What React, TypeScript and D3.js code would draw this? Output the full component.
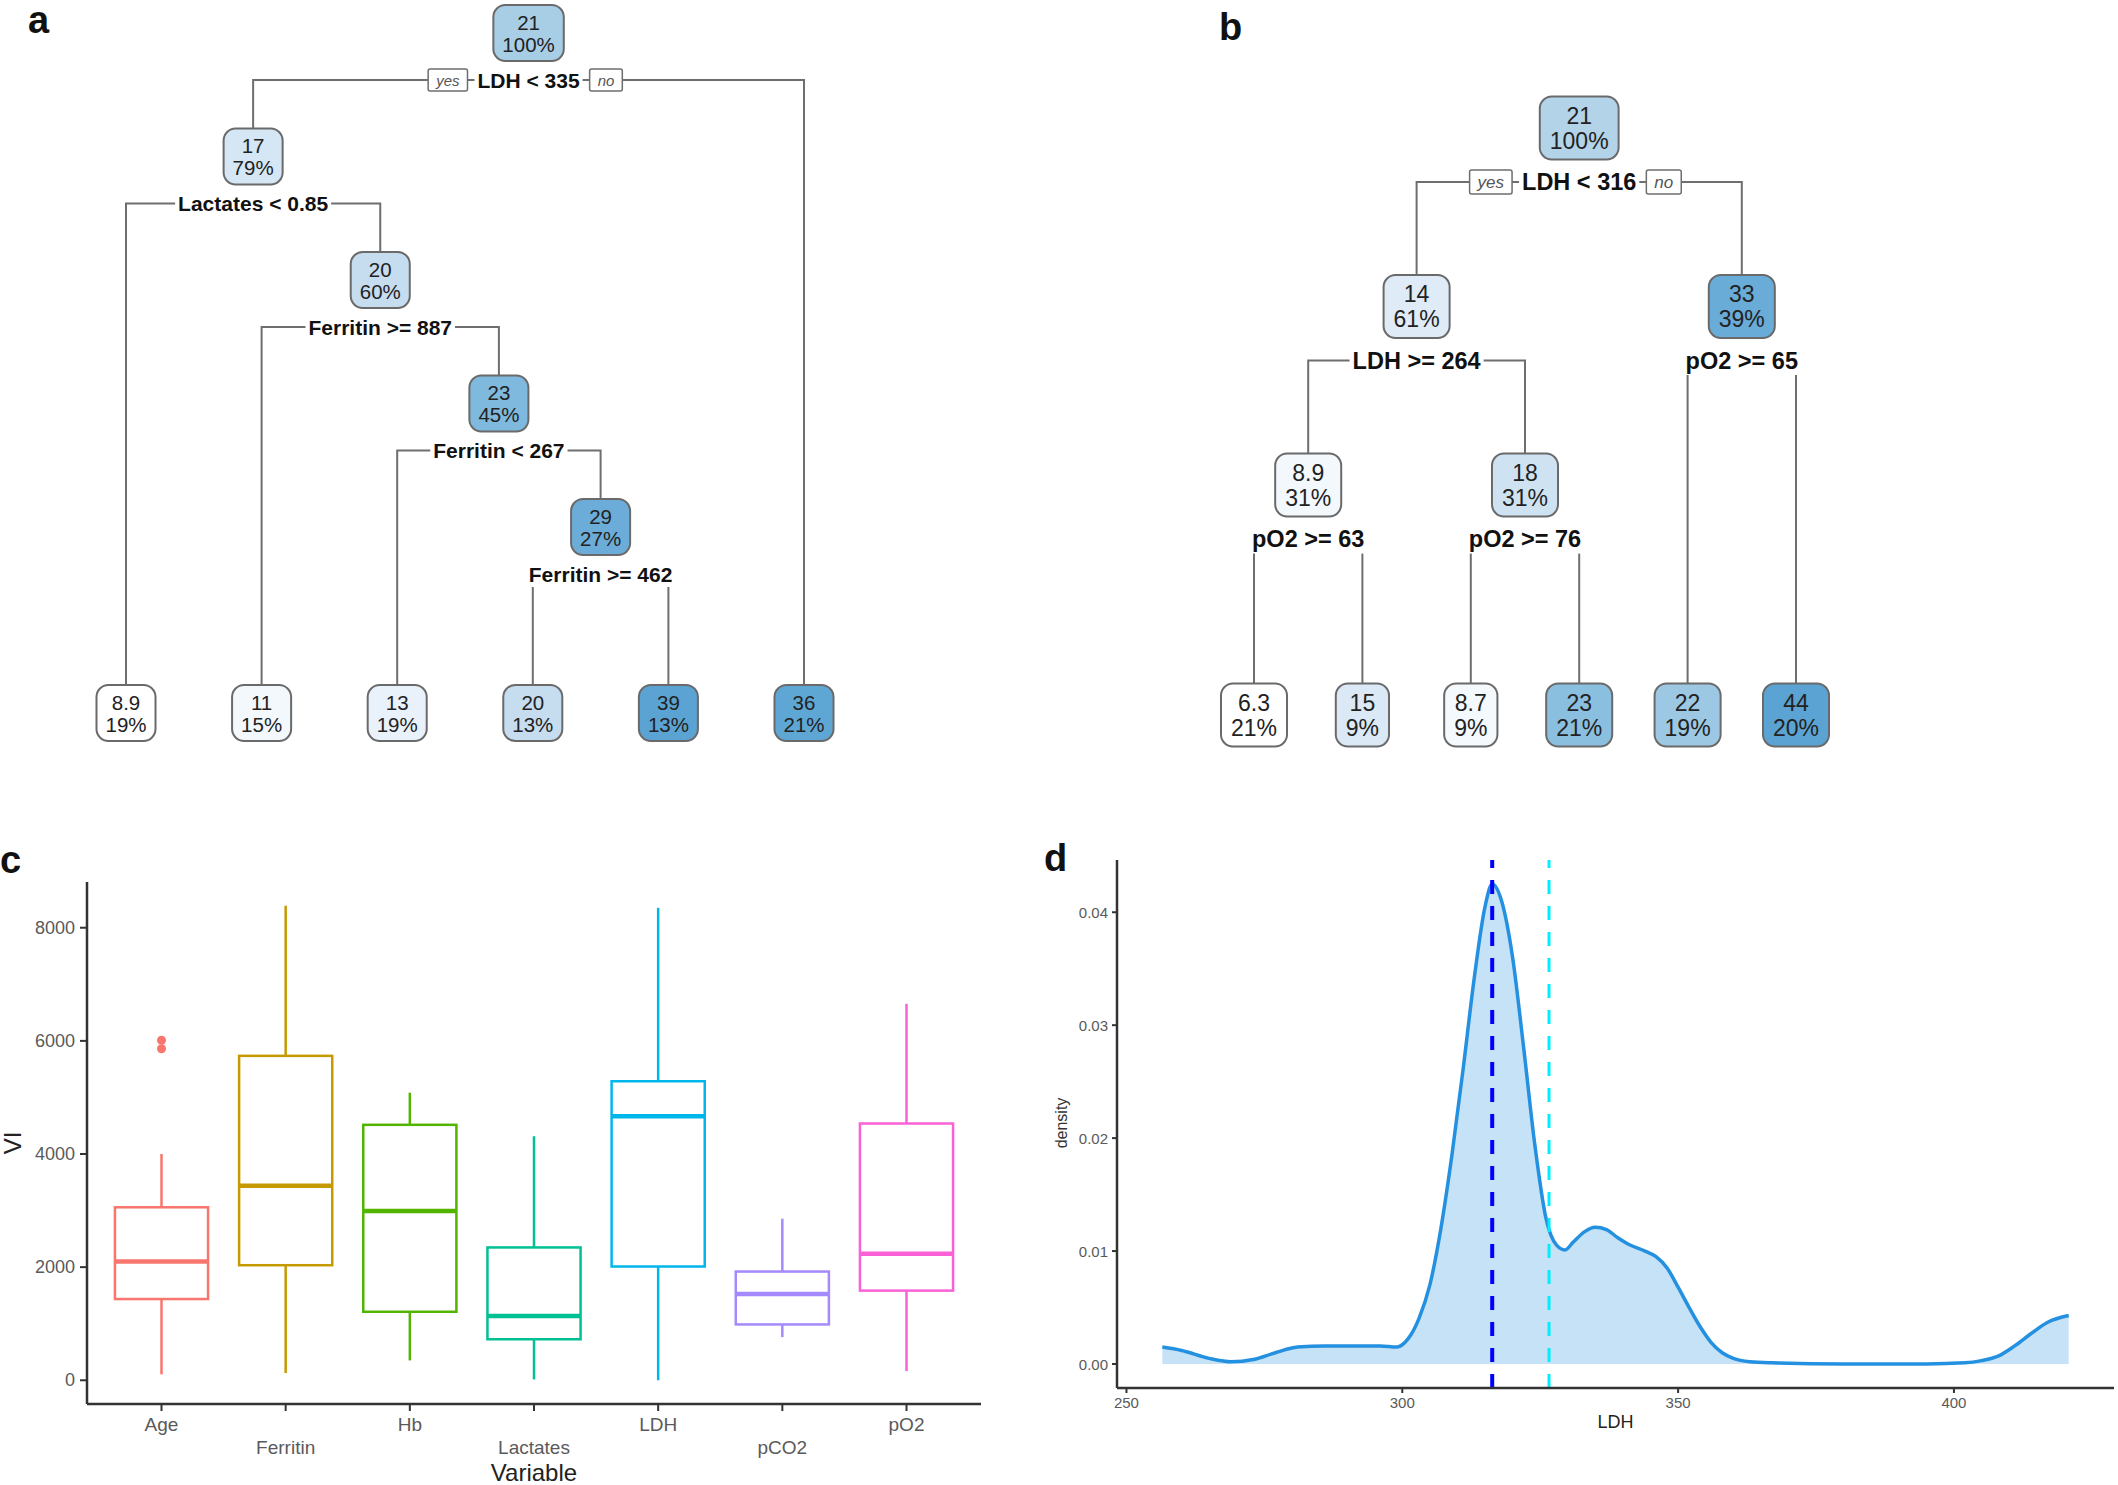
import React from "react";
import * as d3 from "d3";

const W = 2118;
const H = 1485;
const FONT = "'Liberation Sans', Arial, Helvetica, sans-serif";

// ---------- Panel a : regression tree ----------
const treeAIds = ["1", "2", "4", "5", "10", "11", "22", "23", "46", "47", "3"];
const treeAParents = ["", "1", "2", "2", "5", "5", "11", "11", "23", "23", "1"];
const treeAValues = [21, 17, 8.9, 20, 11, 23, 13, 29, 20, 39, 36];
const treeAPercents = ["100%", "79%", "19%", "60%", "15%", "45%", "19%", "27%", "13%", "13%", "21%"];
const treeASplits = ["LDH < 335", "Lactates < 0.85", "", "Ferritin >= 887", "", "Ferritin < 267", "", "Ferritin >= 462", "", "", ""];

// ---------- Panel b : regression tree ----------
const treeBIds = ["1", "2", "4", "8", "9", "5", "10", "11", "3", "6", "7"];
const treeBParents = ["", "1", "2", "4", "4", "2", "5", "5", "1", "3", "3"];
const treeBValues = [21, 14, 8.9, 6.3, 15, 18, 8.7, 23, 33, 22, 44];
const treeBPercents = ["100%", "61%", "31%", "21%", "9%", "31%", "9%", "21%", "39%", "19%", "20%"];
const treeBSplits = ["LDH < 316", "LDH >= 264", "pO2 >= 63", "", "", "pO2 >= 76", "", "", "pO2 >= 65", "", ""];

// node fill palette (normalised fitted value -> colour)
const paletteStops = [0, 0.07, 0.14, 0.21, 0.3, 0.37, 0.4, 0.42, 0.46, 0.67, 0.9, 1];
const paletteColors = ["#ffffff", "#f3f8fd", "#e8f1fb", "#deebf7", "#d0e3f3", "#c6dcef", "#a9cfe6", "#9ac7e3", "#80b9dd", "#6badd8", "#5ea7d5", "#5aa3d2"];

// ---------- Panel c : boxplots of variable importance ----------
const boxVars = ["Age", "Ferritin", "Hb", "Lactates", "LDH", "pCO2", "pO2"];
const boxLow = [105, 127, 351, 15, 0, 763, 164];
const boxQ1 = [1436, 2034, 1211, 725, 2011, 987, 1585];
const boxMedian = [2101, 3439, 2991, 1137, 4666, 1525, 2236];
const boxQ3 = [3058, 5735, 4516, 2348, 5286, 1922, 4539];
const boxHigh = [4000, 8389, 5084, 4314, 8352, 2856, 6655];
const outlierVar = ["Age", "Age"];
const outlierValue = [5860, 6010];
const boxColors = ["#F8766D", "#C49A00", "#53B400", "#00C094", "#00B6EB", "#A58AFF", "#FB61D7"];
const boxTicks = [0, 2000, 4000, 6000, 8000];

// ---------- Panel d : LDH density ----------
const ldhX = [256.5, 260, 265, 269, 273, 277, 281, 286, 291, 296, 299, 301, 303, 305, 307, 309, 311, 313, 315, 316.3, 318, 320, 322, 324, 326, 328, 329.5, 331, 333, 335, 337, 339, 341, 344, 346, 348, 350, 352, 354, 356, 358, 360, 363, 367, 380, 395, 402, 405, 408, 411, 414, 417, 420.8];
const ldhDensity = [0.0015, 0.0012, 0.0005, 0.0002, 0.0004, 0.001, 0.0015, 0.0016, 0.0016, 0.0016, 0.0015, 0.0022, 0.004, 0.007, 0.012, 0.0185, 0.026, 0.034, 0.0405, 0.0425, 0.041, 0.036, 0.028, 0.0195, 0.013, 0.0105, 0.0101, 0.0108, 0.0117, 0.0121, 0.0119, 0.0112, 0.0106, 0.01, 0.0095, 0.0085, 0.0068, 0.005, 0.0033, 0.0019, 0.001, 0.0005, 0.0002, 0.0001, 0, 0, 0.0001, 0.0003, 0.0007, 0.0016, 0.0027, 0.0037, 0.0043];
const vlineValues = [316.3, 326.6];
const vlineColors = ["#0000ff", "#00eeff"];
const vlineWidths = [4, 3];
const densityXTicks = [250, 300, 350, 400];
const densityYTicks = [0, 0.01, 0.02, 0.03, 0.04];

let _ctx: any = null;
function tw(text: string, font: string) {
  if (!_ctx) _ctx = document.createElement("canvas").getContext("2d");
  _ctx.font = font;
  return _ctx.measureText(text).width;
}

function Tree({ cfg, ids, parents, values, pcts, splits }: any) {
  const rows = ids.map((id: string, i: number) => ({
    id,
    parent: parents[i] || null,
    value: values[i],
    pct: pcts[i],
    split: splits[i],
  }));
  const root: any = d3.stratify<any>().id((d: any) => d.id).parentId((d: any) => d.parent)(rows);
  const leaves = root.leaves();
  const xLeaf = d3.scalePoint<string>().domain(leaves.map((l: any) => l.id)).range([cfg.x0, cfg.x1]);
  const yDepth = d3.scaleLinear().domain([0, 1]).range([cfg.y0, cfg.y0 + cfg.dy]);
  root.eachAfter((n: any) => {
    n.px = n.children ? d3.mean(n.children, (c: any) => c.px) : xLeaf(n.id);
  });
  root.each((n: any) => {
    n.py = n.children ? yDepth(n.depth) : cfg.leafY;
  });
  const ext = d3.extent(values as number[]) as [number, number];
  const norm = d3.scaleLinear().domain(ext).range([0, 1]);
  const color = d3.scaleLinear<string>().domain(paletteStops).range(paletteColors).interpolate(d3.interpolateRgb);
  const nodeFont = `${cfg.fs}px ${FONT}`;
  const labelFont = `bold ${cfg.lfs}px ${FONT}`;
  const ynFont = `italic ${cfg.yfs}px ${FONT}`;
  const nodes = root.descendants();
  const lines: any[] = [];
  const labels: any[] = [];
  nodes.forEach((n: any, k: number) => {
    if (!n.children) return;
    const ly = n.py + cfg.labelOff;
    const lw = tw(n.data.split, labelFont);
    n.children.forEach((c: any, j: number) => {
      const top = c.py - cfg.boxH / 2;
      const d =
        Math.abs(c.px - n.px) > lw / 2 + 12
          ? `M${n.px},${ly}H${c.px}V${top}`
          : `M${c.px},${ly + cfg.lfs * 0.62}V${top}`;
      lines.push(<path key={`l${k}-${j}`} d={d} fill="none" stroke="#6e6e6e" strokeWidth={2} />);
    });
    labels.push(
      <g key={`s${k}`}>
        <rect x={n.px - lw / 2 - 3} y={ly - cfg.lfs * 0.6} width={lw + 6} height={cfg.lfs * 1.2} fill="#fff" />
        <text x={n.px} y={ly} textAnchor="middle" dominantBaseline="central" fontWeight="bold" fontSize={cfg.lfs} fill="#111">
          {n.data.split}
        </text>
      </g>
    );
    if (n.depth === 0) {
      const bh = cfg.yfs + 7;
      const yw = tw("yes", ynFont) + 16;
      const nw = tw("no", ynFont) + 16;
      const yx = n.px - lw / 2 - 10 - yw;
      const nx = n.px + lw / 2 + 10;
      labels.push(
        <g key="yesno">
          <rect x={yx} y={ly - bh / 2} width={yw} height={bh} fill="#fff" stroke="#6e6e6e" strokeWidth={1.5} rx={2} />
          <text x={yx + yw / 2} y={ly} textAnchor="middle" dominantBaseline="central" fontStyle="italic" fontSize={cfg.yfs} fill="#555">yes</text>
          <rect x={nx} y={ly - bh / 2} width={nw} height={bh} fill="#fff" stroke="#6e6e6e" strokeWidth={1.5} rx={2} />
          <text x={nx + nw / 2} y={ly} textAnchor="middle" dominantBaseline="central" fontStyle="italic" fontSize={cfg.yfs} fill="#555">no</text>
        </g>
      );
    }
  });
  const boxes = nodes.map((n: any, k: number) => {
    const vs = String(n.data.value);
    const w = Math.max(tw(vs, nodeFont), tw(n.data.pct, nodeFont)) + 2 * cfg.pad;
    return (
      <g key={`n${k}`}>
        <rect
          x={n.px - w / 2}
          y={n.py - cfg.boxH / 2}
          width={w}
          height={cfg.boxH}
          rx={12}
          fill={color(norm(n.data.value))}
          stroke="#6a6a6a"
          strokeWidth={2}
        />
        <text x={n.px} y={n.py - cfg.lineOff} textAnchor="middle" dominantBaseline="central" fontSize={cfg.fs} fill="#222">{vs}</text>
        <text x={n.px} y={n.py + cfg.lineOff} textAnchor="middle" dominantBaseline="central" fontSize={cfg.fs} fill="#222">{n.data.pct}</text>
      </g>
    );
  });
  return (
    <g>
      {lines}
      {labels}
      {boxes}
    </g>
  );
}

function BoxPanel() {
  const x0 = 87, x1 = 981, yTop = 882, yBot = 1404;
  const x = d3.scalePoint<string>().domain(boxVars).range([x0, x1]).padding(0.6);
  const lo = Math.min(d3.min(boxLow)!, d3.min(outlierValue)!);
  const hi = Math.max(d3.max(boxHigh)!, d3.max(outlierValue)!);
  const pad = (hi - lo) * 0.05;
  const y = d3.scaleLinear().domain([lo - pad, hi + pad]).range([yBot, yTop]);
  const bw = x.step() * 0.75;
  return (
    <g>
      {boxVars.map((v, i) => {
        const cx = x(v)!;
        const c = boxColors[i];
        return (
          <g key={v}>
            <line x1={cx} x2={cx} y1={y(boxHigh[i])} y2={y(boxQ3[i])} stroke={c} strokeWidth={2.5} />
            <line x1={cx} x2={cx} y1={y(boxQ1[i])} y2={y(boxLow[i])} stroke={c} strokeWidth={2.5} />
            <rect x={cx - bw / 2} y={y(boxQ3[i])} width={bw} height={y(boxQ1[i]) - y(boxQ3[i])} fill="#fff" stroke={c} strokeWidth={2.5} />
            <line x1={cx - bw / 2} x2={cx + bw / 2} y1={y(boxMedian[i])} y2={y(boxMedian[i])} stroke={c} strokeWidth={4.5} />
          </g>
        );
      })}
      {outlierValue.map((v, i) => (
        <circle key={`o${i}`} cx={x(outlierVar[i])!} cy={y(v)} r={4.5} fill={boxColors[boxVars.indexOf(outlierVar[i])]} />
      ))}
      <line x1={x0} x2={x0} y1={yTop} y2={yBot} stroke="#333" strokeWidth={2.5} />
      <line x1={x0} x2={x1} y1={yBot} y2={yBot} stroke="#333" strokeWidth={2.5} />
      {boxTicks.map((t) => (
        <g key={`yt${t}`}>
          <line x1={x0 - 7} x2={x0} y1={y(t)} y2={y(t)} stroke="#333" strokeWidth={2} />
          <text x={x0 - 12} y={y(t)} textAnchor="end" dominantBaseline="central" fontSize={18} fill="#5a5a5a">{t}</text>
        </g>
      ))}
      {boxVars.map((v, i) => (
        <g key={`xt${v}`}>
          <line x1={x(v)!} x2={x(v)!} y1={yBot} y2={yBot + 7} stroke="#333" strokeWidth={2} />
          <text x={x(v)!} y={yBot + (i % 2 === 0 ? 20 : 43)} textAnchor="middle" dominantBaseline="central" fontSize={19} fill="#5a5a5a">{v}</text>
        </g>
      ))}
      <text x={(x0 + x1) / 2} y={1472} textAnchor="middle" dominantBaseline="central" fontSize={24} fill="#222">Variable</text>
      <text transform={`translate(21,1143) rotate(-90)`} textAnchor="middle" fontSize={24} fill="#222">VI</text>
    </g>
  );
}

function DensityPanel() {
  const x0 = 1117, x1 = 2114, yTop = 860, yBot = 1388;
  const [xmin, xmax] = d3.extent(ldhX) as [number, number];
  const xp = (xmax - xmin) * 0.05;
  const x = d3.scaleLinear().domain([xmin - xp, xmax + xp]).range([x0, x1]);
  const dmax = d3.max(ldhDensity)!;
  const yp = dmax * 0.05;
  const y = d3.scaleLinear().domain([-yp, dmax + yp]).range([yBot, yTop]);
  const pts = ldhX.map((v, i) => [v, ldhDensity[i]] as [number, number]);
  const area = d3.area<[number, number]>().x((d) => x(d[0])).y0(y(0)).y1((d) => y(d[1])).curve(d3.curveMonotoneX);
  const line = d3.line<[number, number]>().x((d) => x(d[0])).y((d) => y(d[1])).curve(d3.curveMonotoneX);
  return (
    <g>
      <path d={area(pts)!} fill="#c6e2f7" />
      <path d={line(pts)!} fill="none" stroke="#2490e0" strokeWidth={3.5} />
      {vlineValues.map((v, i) => (
        <line key={`v${i}`} x1={x(v)} x2={x(v)} y1={yBot} y2={yTop} stroke={vlineColors[i]} strokeWidth={vlineWidths[i]} strokeDasharray="14 12" />
      ))}
      <line x1={x0} x2={x0} y1={yTop} y2={yBot} stroke="#333" strokeWidth={2.5} />
      <line x1={x0} x2={x1} y1={yBot} y2={yBot} stroke="#333" strokeWidth={2.5} />
      {densityYTicks.map((t) => (
        <g key={`dy${t}`}>
          <line x1={x0 - 5} x2={x0} y1={y(t)} y2={y(t)} stroke="#333" strokeWidth={2} />
          <text x={x0 - 9} y={y(t)} textAnchor="end" dominantBaseline="central" fontSize={15} fill="#5a5a5a">{t.toFixed(2)}</text>
        </g>
      ))}
      {densityXTicks.map((t) => (
        <g key={`dx${t}`}>
          <line x1={x(t)} x2={x(t)} y1={yBot} y2={yBot + 5} stroke="#333" strokeWidth={2} />
          <text x={x(t)} y={yBot + 14} textAnchor="middle" dominantBaseline="central" fontSize={15} fill="#5a5a5a">{t}</text>
        </g>
      ))}
      <text x={(x0 + x1) / 2} y={1422} textAnchor="middle" dominantBaseline="central" fontSize={18} fill="#222">LDH</text>
      <text transform={`translate(1067,1123) rotate(-90)`} textAnchor="middle" fontSize={16} fill="#333">density</text>
    </g>
  );
}

const cfgA = { x0: 126, x1: 804, y0: 33, dy: 123.5, leafY: 713, fs: 20.5, lfs: 21, yfs: 15, boxH: 56, pad: 9, labelOff: 47, lineOff: 11 };
const cfgB = { x0: 1254, x1: 1796, y0: 128, dy: 178.5, leafY: 715, fs: 23, lfs: 23.5, yfs: 17, boxH: 63, pad: 10, labelOff: 54, lineOff: 12.5 };

export default function App() {
  return (
    <div style={{ position: "absolute", left: 0, top: 0, width: W, height: H, background: "#fff" }}>
      <svg width={W} height={H} style={{ display: "block", fontFamily: FONT }}>
        <rect width={W} height={H} fill="#fff" />
        <Tree cfg={cfgA} ids={treeAIds} parents={treeAParents} values={treeAValues} pcts={treeAPercents} splits={treeASplits} />
        <Tree cfg={cfgB} ids={treeBIds} parents={treeBParents} values={treeBValues} pcts={treeBPercents} splits={treeBSplits} />
        <BoxPanel />
        <DensityPanel />
        <g fontWeight="bold" fontSize={38} fill="#111">
          <text x={28} y={33}>a</text>
          <text x={1219} y={40}>b</text>
          <text x={0} y={873}>c</text>
          <text x={1044} y={871}>d</text>
        </g>
      </svg>
    </div>
  );
}
